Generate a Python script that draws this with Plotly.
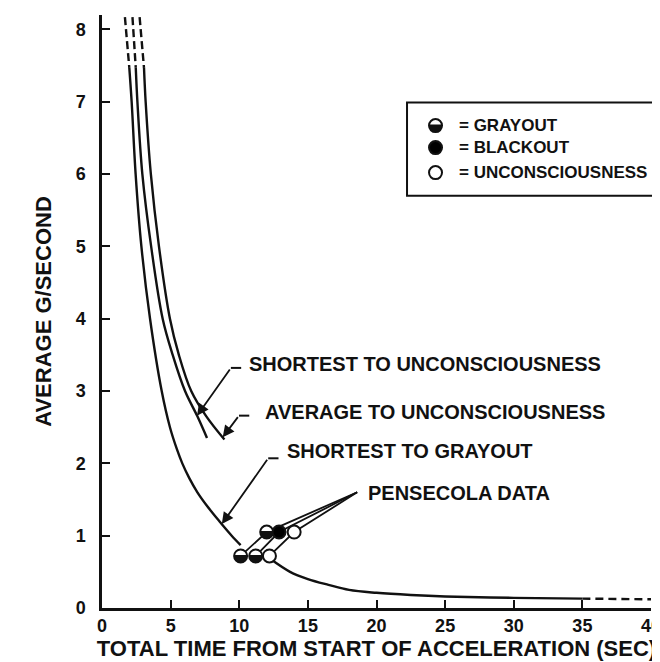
import numpy as np
import plotly.graph_objects as go

# ---------------- data ----------------
# Shortest to grayout: dashed top, upper solid part, and the lower tail
gray_top_x = [1.67, 1.99]
gray_top_y = [8.17, 7.47]
gray_x = [1.99, 2.16, 2.45, 2.87, 3.5, 4.35, 4.95, 5.45, 5.85, 6.35, 6.95, 7.7, 8.55, 9.45, 10.1]
gray_y = [7.47, 7.0, 6.0, 5.0, 4.0, 3.0, 2.5, 2.2, 2.0, 1.8, 1.6, 1.4, 1.2, 1.0, 0.87]
tail_x = [12.25, 13.7, 15.0, 16.5, 18.0, 20.0, 22.5, 25.0, 30.0, 35.0]
tail_y = [0.68, 0.50, 0.40, 0.32, 0.25, 0.21, 0.18, 0.16, 0.14, 0.13]
tail_dash_x = [35.0, 40.0]
tail_dash_y = [0.13, 0.12]

# Shortest to unconsciousness
su_top_x = [2.22, 2.46]
su_top_y = [8.17, 7.47]
su_x = [2.46, 2.58, 2.94, 3.58, 4.42, 5.15, 6.05, 6.95, 7.65]
su_y = [7.47, 7.0, 6.0, 5.0, 4.0, 3.5, 3.0, 2.65, 2.35]

# Average to unconsciousness
au_top_x = [2.74, 3.06]
au_top_y = [8.17, 7.47]
au_x = [3.06, 3.18, 3.56, 4.15, 4.95, 5.6, 6.5, 7.6, 8.92]
au_y = [7.47, 7.0, 6.0, 5.0, 4.0, 3.5, 3.0, 2.65, 2.33]

# Pensecola data: lower row and upper row, with outcome type
pens_low_x = [10.1, 11.2, 12.2]
pens_low_y = [0.72, 0.72, 0.72]
pens_low_type = ["G", "G", "U"]
pens_high_x = [12.0, 12.9, 14.0]
pens_high_y = [1.05, 1.05, 1.05]
pens_high_type = ["G", "B", "U"]

x_ticks = [0, 5, 10, 15, 20, 25, 30, 35, 40]
y_ticks = [0, 1, 2, 3, 4, 5, 6, 7, 8]

# label anchors
lbl_su = dict(text="SHORTEST TO UNCONSCIOUSNESS", x=10.55, y=3.38, kink=(9.39, 3.32), tip_y=2.66)
lbl_au = dict(text="AVERAGE TO UNCONSCIOUSNESS", x=11.7, y=2.71, kink=(9.98, 2.66), tip_y=2.36)
lbl_sg = dict(text="SHORTEST TO GRAYOUT", x=13.3, y=2.17, kink=(12.11, 2.07), tip_y=1.16)
lbl_pd = dict(text="PENSECOLA DATA", x=19.21, y=1.59, anchor=(18.59, 1.60))

FONT = "Liberation Sans"
INK = "#111111"
LW = 2.4

fig = go.Figure()

def line(x, y, dash="solid", width=LW):
    fig.add_trace(go.Scatter(x=x, y=y, mode="lines",
                             line=dict(color=INK, width=width, dash=dash, shape="spline", smoothing=1.0),
                             showlegend=False, hoverinfo="skip"))

for tx, ty in [(gray_top_x, gray_top_y), (su_top_x, su_top_y), (au_top_x, au_top_y)]:
    line(tx, ty, dash="8px,4px")
line(gray_x, gray_y)
line(su_x, su_y)
line(au_x, au_y)
line(tail_x, tail_y)
line(tail_dash_x, tail_dash_y, dash="8px,5px")

# Pensecola leaders: low point -> high point -> label anchor
for lx, ly, hx, hy in zip(pens_low_x, pens_low_y, pens_high_x, pens_high_y):
    fig.add_trace(go.Scatter(x=[lx, hx, lbl_pd["anchor"][0]], y=[ly, hy, lbl_pd["anchor"][1]], mode="lines",
                             line=dict(color=INK, width=1.8), showlegend=False, hoverinfo="skip"))

# Pensecola markers
all_x = pens_low_x + pens_high_x
all_y = pens_low_y + pens_high_y
all_t = pens_low_type + pens_high_type
fills = ["black" if t == "B" else "white" for t in all_t]
fig.add_trace(go.Scatter(x=all_x, y=all_y, mode="markers",
                         marker=dict(size=13, color=fills, line=dict(color=INK, width=2)),
                         showlegend=False, hoverinfo="skip"))

R = 6.5
def half_path(r=R, chord=1.0):
    a = np.arcsin(chord / r)
    th = np.linspace(np.pi - a, 2 * np.pi + a, 30)
    pts = [f"{r*np.cos(t):.2f},{r*np.sin(t):.2f}" for t in th]
    return "M " + " L ".join(pts) + " Z"

shapes = []
for x, y, t in zip(all_x, all_y, all_t):
    if t == "G":
        shapes.append(dict(type="path", xref="x", yref="y", xsizemode="pixel", ysizemode="pixel",
                           xanchor=x, yanchor=y, path=half_path(), fillcolor=INK, line=dict(width=0)))

# label leaders (horizontal stub + arrow to the curve)
annotations = []
def label_with_arrow(lbl, cx, cy):
    tip_y = lbl["tip_y"]
    order = np.argsort(cy)
    tip_x = float(np.interp(tip_y, np.array(cy)[order], np.array(cx)[order]))
    kx, ky = lbl["kink"]
    shapes.append(dict(type="line", xref="x", yref="y", x0=kx, y0=ky, x1=kx + 0.75, y1=ky,
                       line=dict(color=INK, width=2)))
    annotations.append(dict(x=tip_x, y=tip_y, ax=kx, ay=ky, axref="x", ayref="y", xref="x", yref="y",
                            text="", showarrow=True, arrowhead=2, arrowsize=1.3, arrowwidth=1.8,
                            arrowcolor=INK, standoff=0, startstandoff=0))

label_with_arrow(lbl_su, su_x, su_y)
label_with_arrow(lbl_au, au_x, au_y)
label_with_arrow(lbl_sg, gray_x, gray_y)

for lbl in [lbl_su, lbl_au, lbl_sg, lbl_pd]:
    annotations.append(dict(x=lbl["x"], y=lbl["y"], xref="x", yref="y", text=lbl["text"], showarrow=False,
                            xanchor="left", yanchor="middle",
                            font=dict(family=FONT, size=20, color=INK, weight="bold")))

# legend box (paper coordinates)
shapes.append(dict(type="rect", xref="paper", yref="paper", x0=0.5556, x1=1.0108, y0=0.6954, y1=0.8523,
                   line=dict(color=INK, width=2), fillcolor="rgba(0,0,0,0)"))
leg_items = [("G", "= GRAYOUT", 0.8135), ("B", "= BLACKOUT", 0.7764), ("U", "= UNCONSCIOUSNESS", 0.7342)]
for t, txt, yy in leg_items:
    shapes.append(dict(type="circle", xref="paper", yref="paper", xsizemode="pixel", ysizemode="pixel",
                       xanchor=0.6075, yanchor=yy, x0=-R, x1=R, y0=-R, y1=R,
                       fillcolor=("black" if t == "B" else "white"), line=dict(color=INK, width=2)))
    if t == "G":
        shapes.append(dict(type="path", xref="paper", yref="paper", xsizemode="pixel", ysizemode="pixel",
                           xanchor=0.6075, yanchor=yy, path=half_path(), fillcolor=INK, line=dict(width=0)))
    annotations.append(dict(x=0.647, y=yy, xref="paper", yref="paper", text=txt, showarrow=False,
                            xanchor="left", yanchor="middle",
                            font=dict(family=FONT, size=17, color=INK, weight="bold")))

axis_common = dict(ticks="inside", ticklen=8, tickwidth=2, tickcolor=INK, showline=True, linewidth=2.5,
                   linecolor=INK, showgrid=False, zeroline=False, ticklabeloverflow="allow",
                   tickfont=dict(family=FONT, size=18, color=INK, weight="bold"))

fig.update_layout(
    width=660, height=662, autosize=False,
    margin=dict(l=94, r=8, t=7, b=62, pad=0),
    plot_bgcolor="white", paper_bgcolor="white",
    xaxis=dict(range=[0, 40], tickvals=x_ticks, ticktext=[str(v) for v in x_ticks],
               title=dict(text="TOTAL TIME FROM START OF ACCELERATION (SEC)", standoff=0,
                          font=dict(family=FONT, size=22, color=INK, weight="bold")),
               **axis_common),
    yaxis=dict(range=[0, 8.2], tickvals=y_ticks, ticktext=[str(v) for v in y_ticks],
               ticklabelstandoff=10,
               title=dict(text="AVERAGE G/SECOND", standoff=18,
                          font=dict(family=FONT, size=22, color=INK, weight="bold")),
               **axis_common),
    shapes=shapes,
    annotations=annotations,
    showlegend=False,
)

fig.write_html("out.html")
